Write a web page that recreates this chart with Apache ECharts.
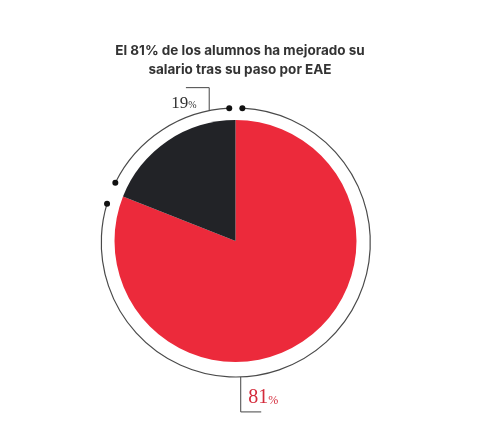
<!DOCTYPE html>
<html>
<head>
<meta charset="utf-8">
<script src="https://cdn.jsdelivr.net/npm/echarts@6/dist/echarts.min.js"></script>
<style>
html,body{margin:0;padding:0;background:#fff;}
#chart{width:500px;height:438px;}
</style>
</head>
<body>
<div id="chart"></div>
<script>
// ---- data ----
const categories = ['Ha mejorado su salario', 'No ha mejorado su salario'];
const values = [81, 19];
const labelNumbers = ['81', '19'];
const titleText = 'El 81% de los alumnos ha mejorado su\nsalario tras su paso por EAE';

// ---- layout / style constants ----
const sliceColors = ['#ec2a3b', '#222327'];
const PIE = { cx: 235.5, cy: 241, r: 121 };
const RING = { cx: 235.8, cy: 242.5, r: 134.5 };
const boundaryGapDeg = [2.8, 4.8]; // half-gap at the start boundary of each slice
const labelStyles = [
  { angle: -87.9, dy: 35, dx: 20.5, tx: 27.5, ty: -4, size: 20, pctSize: 12, color: '#d42a3a' },
  { angle: 101.4, dy: -23, dx: -23.3, tx: -21, ty: 24, size: 17, pctSize: 10, color: '#333333' }
];

function pt(c, r, deg) {
  const a = deg * Math.PI / 180;
  return [c.cx + r * Math.cos(a), c.cy - r * Math.sin(a)];
}

const total = values.reduce((s, v) => s + v, 0);

const chart = echarts.init(document.getElementById('chart'), null, { renderer: 'canvas' });

const option = {
  animation: false,
  backgroundColor: '#ffffff',
  title: {
    text: titleText,
    left: 235,
    top: 36,
    textAlign: 'center',
    textStyle: {
      fontFamily: 'Inter',
      fontWeight: 700,
      fontSize: 13.5,
      lineHeight: 19,
      color: '#333333'
    }
  },
  series: [
    {
      type: 'pie',
      center: [PIE.cx, PIE.cy],
      radius: PIE.r,
      startAngle: 90,
      clockwise: true,
      silent: true,
      label: { show: false },
      labelLine: { show: false },
      emphasis: { disabled: true },
      data: categories.map((c, i) => ({ name: c, value: values[i], itemStyle: { color: sliceColors[i] } }))
    },
    {
      type: 'custom',
      coordinateSystem: 'none',
      silent: true,
      data: values.map((v, i) => [i, v]),
      renderItem: function (params, api) {
        const i = params.dataIndex;
        const n = values.length;
        let start = 90;
        for (let j = 0; j < i; j++) start -= values[j] / total * 360;
        const end = start - values[i] / total * 360;
        const a0 = start - boundaryGapDeg[i];
        const a1 = end + boundaryGapDeg[(i + 1) % n];
        const p0 = pt(RING, RING.r, a0);
        const p1 = pt(RING, RING.r, a1);
        const ls = labelStyles[i];
        const q0 = pt(RING, RING.r, ls.angle);
        const q1 = [q0[0], q0[1] + ls.dy];
        const q2 = [q0[0] + ls.dx, q0[1] + ls.dy];
        const tx = q0[0] + ls.tx;
        const ty = q1[1] + ls.ty;
        return {
          type: 'group',
          children: [
            {
              type: 'arc',
              shape: { cx: RING.cx, cy: RING.cy, r: RING.r, startAngle: -a0 * Math.PI / 180, endAngle: -a1 * Math.PI / 180, clockwise: true },
              style: { fill: 'none', stroke: '#4a4a4a', lineWidth: 1.2 }
            },
            { type: 'circle', shape: { cx: p0[0], cy: p0[1], r: 3 }, style: { fill: '#111111' } },
            { type: 'circle', shape: { cx: p1[0], cy: p1[1], r: 3 }, style: { fill: '#111111' } },
            {
              type: 'polyline',
              shape: { points: [q0, q1, q2] },
              style: { fill: 'none', stroke: '#444444', lineWidth: 1 }
            },
            {
              type: 'text',
              style: {
                text: labelNumbers[i], x: tx, y: ty,
                font: ls.size + 'px "Liberation Serif"',
                fill: ls.color, align: 'right', verticalAlign: 'bottom',
                textAlign: 'right', textVerticalAlign: 'bottom'
              }
            },
            {
              type: 'text',
              style: {
                text: '%', x: tx, y: ty - ls.size * 0.06,
                font: ls.pctSize + 'px "Liberation Serif"',
                fill: ls.color, align: 'left', verticalAlign: 'bottom',
                textAlign: 'left', textVerticalAlign: 'bottom'
              }
            }
          ]
        };
      }
    }
  ]
};

chart.setOption(option);
</script>
</body>
</html>
